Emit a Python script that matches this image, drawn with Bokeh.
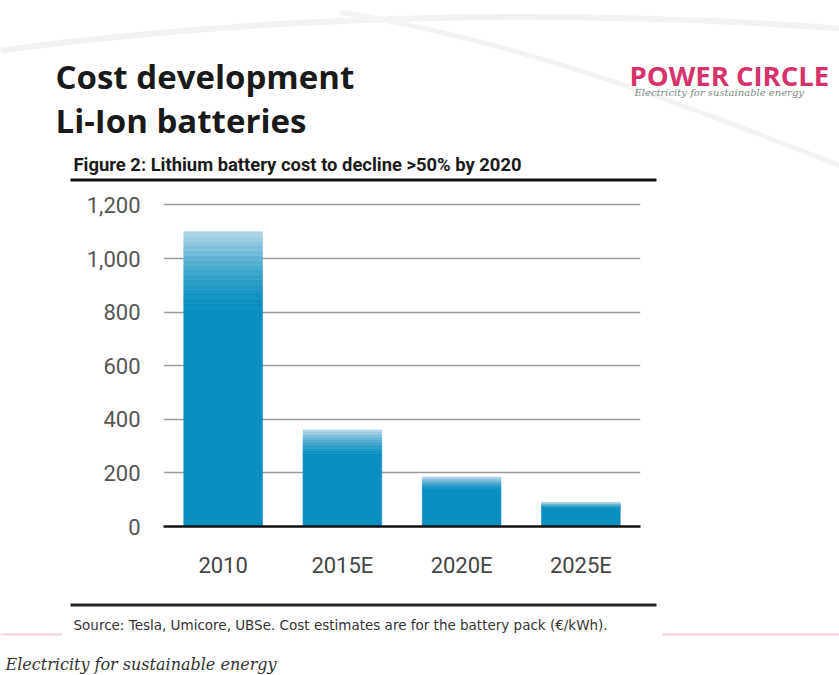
from bokeh.plotting import figure
from bokeh.layouts import column
from bokeh.models import NumeralTickFormatter, FixedTicker, Range1d, FactorRange
from bokeh.core.properties import value
from bokeh.embed import file_html
from bokeh.resources import INLINE

# ---- data ----
categories = ["2010", "2015E", "2020E", "2025E"]
costs = [1100, 360, 185, 90]
y_ticks = [0, 200, 400, 600, 800, 1000, 1200]

title_lines = ["Cost development", "Li-Ion batteries"]
subtitle = "Figure 2: Lithium battery cost to decline >50% by 2020"
source_note = "Source:  Tesla, Umicore, UBSe. Cost estimates are for the battery pack (\u20ac/kWh)."
brand = "POWER CIRCLE"
tagline = "Electricity for sustainable energy"

W = 839
H_HEAD, H_CHART, H_FOOT = 185, 400, 90
FONT = "Open Sans"
NARROW = "Roboto"


def canvas_fig(h):
    f = figure(width=W, height=h, x_range=Range1d(0, W), y_range=Range1d(h, 0),
               output_backend="svg", toolbar_location=None,
               x_axis_location=None, y_axis_location=None,
               min_border=0, min_border_left=0, min_border_right=0,
               min_border_top=0, min_border_bottom=0, frame_align=False)
    f.xgrid.visible = False
    f.ygrid.visible = False
    f.outline_line_color = None
    f.background_fill_color = "white"
    f.border_fill_color = "white"
    return f


def txt(f, text, x, y, size, color="#1a1a1a", style="normal", font=FONT):
    f.text(x=[x], y=[y], text=[text], text_font=value(font), text_font_size=size,
           text_font_style=style, text_color=color, text_baseline="alphabetic",
           text_align="left")


def hline(f, x0, x1, y, thick, color):
    f.quad(left=[x0], right=[x1], top=[y], bottom=[y + thick], fill_color=color,
           line_color=None)


# ---- header ----
head = canvas_fig(H_HEAD)
# faint background swooshes
head.bezier(x0=[0], y0=[50], x1=[839], y1=[28], cx0=[300], cy0=[10], cx1=[600], cy1=[10],
            line_color="#f3f3f3", line_width=6)
head.bezier(x0=[340], y0=[12], x1=[839], y1=[165], cx0=[520], cy0=[40], cx1=[700], cy1=[110],
            line_color="#f4f4f4", line_width=5)
txt(head, title_lines[0], 55, 76, "33px", style="bold")
txt(head, title_lines[1], 55, 120, "33px", style="bold")
txt(head, brand, 629, 75, "27.5px", color="#d6336c", style="bold")
txt(head, tagline, 634, 92, "10px", color="#7a8a80", style="italic", font="DejaVu Serif")
txt(head, subtitle, 73, 164, "18.4px", style="bold", font=NARROW)
hline(head, 70, 656, 178, 3, "#111111")

# ---- chart ----
FL, FR, FT, FB = 163, 199, 6, 59
p = figure(width=W, height=H_CHART,
           x_range=FactorRange(*categories), y_range=Range1d(0, 1250),
           output_backend="svg", toolbar_location=None,
           min_border_left=FL, min_border_right=FR,
           min_border_top=FT, min_border_bottom=FB, frame_align=False)

base = (10, 143, 192)
light = (182, 216, 232)
grad_frac = 0.26
n = 16


def mix(a, b, t):
    return "#%02x%02x%02x" % tuple(int(round(a[i] + (b[i] - a[i]) * t)) for i in range(3))


xs, bots, tops, cols = [], [], [], []
for c, v in zip(categories, costs):
    solid_top = v * (1 - grad_frac)
    xs.append(c); bots.append(0); tops.append(solid_top); cols.append(mix(base, base, 0))
    for i in range(n):
        b = solid_top + v * grad_frac * i / n
        t = solid_top + v * grad_frac * (i + 1) / n
        f = ((i + 0.5) / n) ** 1.6
        xs.append(c); bots.append(b); tops.append(t); cols.append(mix(base, light, f))

p.vbar(x=xs, bottom=bots, top=tops, width=0.66, fill_color=cols, line_color=cols, line_width=0.6)

p.xgrid.visible = False
p.ygrid.ticker = FixedTicker(ticks=y_ticks)
p.ygrid.grid_line_color = "#9c9c9c"
p.ygrid.grid_line_width = 1.6

p.yaxis.ticker = FixedTicker(ticks=y_ticks)
p.yaxis.formatter = NumeralTickFormatter(format="0,0")
p.yaxis.axis_line_color = None
p.yaxis.major_tick_line_color = None
p.yaxis.minor_tick_line_color = None
p.yaxis.major_label_standoff = 17
p.yaxis.major_label_text_font = NARROW
p.yaxis.major_label_text_font_size = "22px"
p.yaxis.major_label_text_color = "#555555"

p.xaxis.axis_line_color = "#111111"
p.xaxis.axis_line_width = 2.5
p.xaxis.major_tick_line_color = None
p.xaxis.minor_tick_line_color = None
p.xaxis.major_label_standoff = 20
p.xaxis.major_label_text_font = NARROW
p.xaxis.major_label_text_font_size = "22px"
p.xaxis.major_label_text_color = "#444444"

p.outline_line_color = None
p.background_fill_color = "white"
p.border_fill_color = "white"

# ---- footer ----
foot = canvas_fig(H_FOOT)
Y0 = H_HEAD + H_CHART
hline(foot, 70, 656, 603 - Y0, 3, "#222222")
txt(foot, source_note, 73, 624 - Y0, "13.5px", color="#333333", font="DejaVu Sans")
hline(foot, 0, 62, 633 - Y0, 2, "#f1d3da")
hline(foot, 662, 839, 633 - Y0, 2, "#f1d3da")
txt(foot, tagline, 5, 664 - Y0, "16px", color="#333333", style="italic", font="DejaVu Serif")

layout = column(head, p, foot, spacing=0)
open("out.html", "w").write(file_html(layout, INLINE))
